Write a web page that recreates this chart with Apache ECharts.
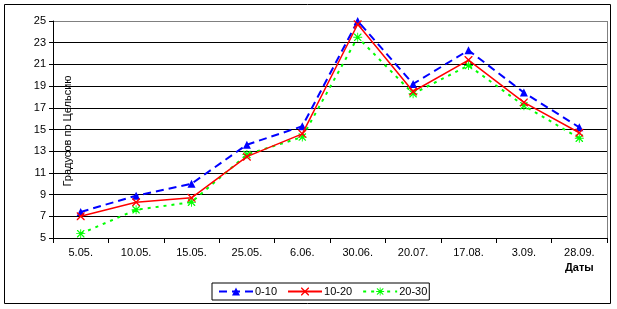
<!DOCTYPE html>
<html><head><meta charset="utf-8">
<script src="https://cdn.jsdelivr.net/npm/echarts@6/dist/echarts.min.js"></script>
<style>html,body{margin:0;padding:0;background:#fff}#c{width:617px;height:309px}</style>
</head><body><div id="c"></div>
<script>
var categories = ['5.05.', '10.05.', '15.05.', '25.05.', '6.06.', '30.06.', '20.07.', '17.08.', '3.09.', '28.09.'];
var s0_10 = [7.4, 8.9, 10.0, 13.6, 15.3, 25.0, 19.2, 22.3, 18.4, 15.2];
var s10_20 = [7.0, 8.3, 8.7, 12.5, 14.6, 24.7, 18.5, 21.4, 17.5, 14.7];
var s20_30 = [5.4, 7.6, 8.3, 12.7, 14.3, 23.5, 18.3, 20.9, 17.2, 14.2];
var yTicks = {min: 5, max: 25, interval: 2};

var xPath = 'path://M0,0 L1.2,0 L5,3.8 L8.8,0 L10,0 L10,1.2 L6.2,5 L10,8.8 L10,10 L8.8,10 L5,6.2 L1.2,10 L0,10 L0,8.8 L3.8,5 L0,1.2 Z';
var starPath = 'path://M0,0 L1.2,0 L5,3.8 L8.8,0 L10,0 L10,1.2 L6.2,5 L10,8.8 L10,10 L8.8,10 L5,6.2 L1.2,10 L0,10 L0,8.8 L3.8,5 L0,1.2 Z M4.4,-1 L5.6,-1 L5.6,11 L4.4,11 Z M-1,4.4 L11,4.4 L11,5.6 L-1,5.6 Z';

var gridColors = [];
for (var i = 0; i < 10; i++) gridColors.push('#000');
gridColors.push('#808080');

var chart = echarts.init(document.getElementById('c'), null, {renderer: 'canvas'});
chart.setOption({
  animation: false,
  backgroundColor: '#fff',
  textStyle: {fontFamily: 'Liberation Sans, Arial, sans-serif'},
  graphic: [
    {type: 'rect', shape: {x: 4.5, y: 4.5, width: 606, height: 299}, style: {fill: 'none', stroke: '#000', lineWidth: 1}, z: 0},
    {type: 'line', shape: {x1: 607.5, y1: 21, x2: 607.5, y2: 238}, style: {stroke: '#808080', lineWidth: 1}, z: 1},
    {type: 'text', left: 565, top: 262, style: {text: 'Даты', font: 'bold 11px Liberation Sans, Arial, sans-serif', fill: '#000'}},
    {type: 'text', x: 68, y: 131, rotation: Math.PI / 2,
     style: {text: 'Градусов по Цельсию', font: '11px Liberation Sans, Arial, sans-serif', fill: '#000', align: 'center', verticalAlign: 'middle'}, z: 5}
  ],
  grid: {left: 53, top: 21, width: 554, height: 217, containLabel: false},
  legend: {
    left: 212, top: 283,
    itemGap: 10, itemWidth: 34, itemHeight: 10,
    padding: [3, 2, 3, 6],
    borderColor: '#000', borderWidth: 1, borderRadius: 0,
    textStyle: {fontSize: 11, color: '#000', fontFamily: 'Liberation Sans, Arial, sans-serif', padding: [0, 0, 0, -3]},
    data: ['0-10', '10-20', '20-30']
  },
  xAxis: {
    type: 'category', data: categories, boundaryGap: true,
    axisLine: {lineStyle: {color: '#000', width: 1}},
    axisTick: {show: true, inside: false, length: 5, lineStyle: {color: '#000'}},
    axisLabel: {color: '#000', fontSize: 11, margin: 9},
    splitLine: {show: false}
  },
  yAxis: {
    type: 'value', min: yTicks.min, max: yTicks.max, interval: yTicks.interval,
    axisLine: {show: true, lineStyle: {color: '#000', width: 1}},
    axisTick: {show: true, inside: false, length: 4, lineStyle: {color: '#000'}},
    axisLabel: {color: '#000', fontSize: 11, margin: 7},
    splitLine: {show: true, lineStyle: {color: gridColors, width: 1}}
  },
  series: [
    {name: '0-10', type: 'line', data: s0_10, symbol: 'triangle', symbolSize: 8,
     lineStyle: {color: '#0000ff', width: 2, type: [8, 5]}, itemStyle: {color: '#0000ff'}, z: 3},
    {name: '10-20', type: 'line', data: s10_20, symbol: xPath, symbolSize: 8,
     lineStyle: {color: '#ff0000', width: 1.5, type: 'solid'}, itemStyle: {color: '#ff0000'}, z: 4},
    {name: '20-30', type: 'line', data: s20_30, symbol: starPath, symbolSize: 9,
     lineStyle: {color: '#00ff00', width: 2, type: [3, 5]}, itemStyle: {color: '#00ff00'}, z: 2}
  ]
});
</script></body></html>
